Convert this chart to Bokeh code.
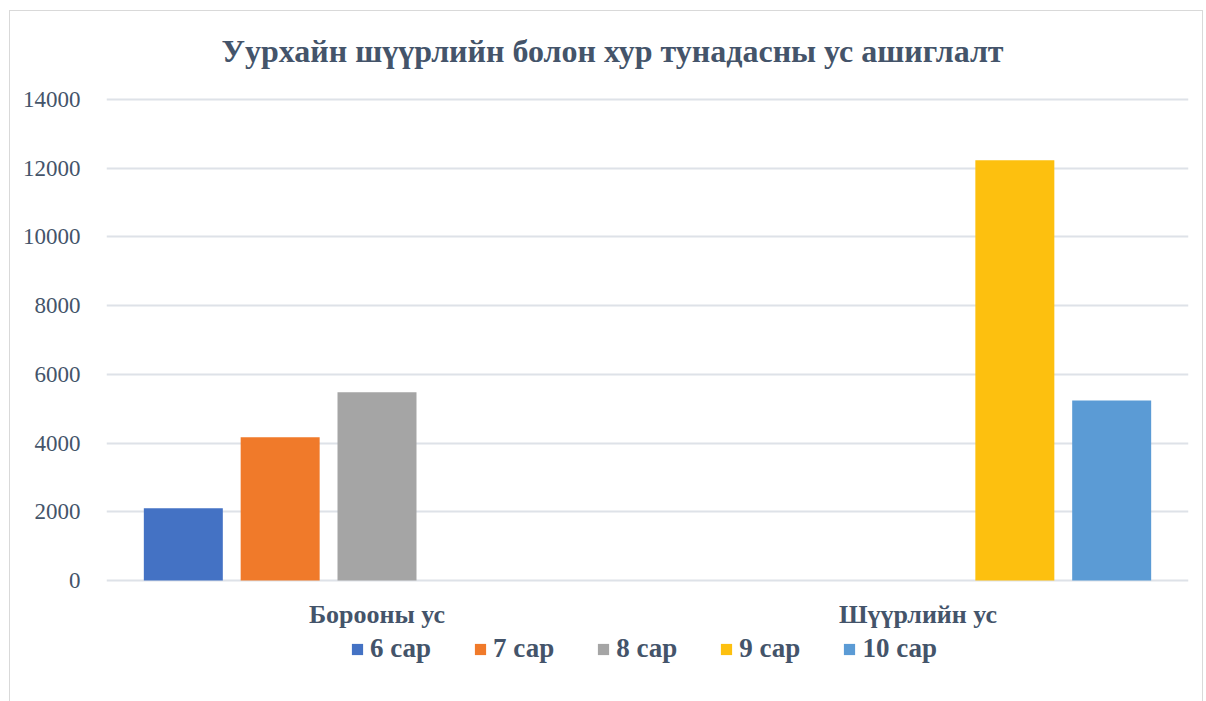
from bokeh.plotting import figure
from bokeh.models import FactorRange, FixedTicker, Legend, LegendItem, ColumnDataSource, Label
from bokeh.core.properties import value
from bokeh.transform import dodge
from bokeh.embed import file_html
from bokeh.resources import INLINE

categories = ["Борооны ус", "Шүүрлийн ус"]
series = ["6 сар", "7 сар", "8 сар", "9 сар", "10 сар"]
values = {
    "6 сар": [2100, 0],
    "7 сар": [4170, 0],
    "8 сар": [5480, 0],
    "9 сар": [0, 12230],
    "10 сар": [0, 5240],
}
colors = ["#4472C4", "#F07A2A", "#A5A5A5", "#FDC00F", "#5B9BD5"]
y_ticks = [0, 2000, 4000, 6000, 8000, 10000, 12000, 14000]
title_text = "Уурхайн шүүрлийн болон хур тунадасны ус ашиглалт"

TXT = "#44546A"
FONT = "Liberation Serif"
GRID = "#DEE2E8"

# layout (pixels): plot area 481 px tall for 0..14000, 88 px above, 121 px below
ppu = 481 / 14000
y_end = 14000 + 88 / ppu
y_start = -121 / ppu

p = figure(x_range=FactorRange(*categories), y_range=(y_start, y_end),
           frame_width=1082, frame_height=690,
           output_backend="svg", toolbar_location=None, title=None)
p.min_border_left = 96
p.min_border_right = 14
p.min_border_top = 0
p.min_border_bottom = 0
p.outline_line_color = None
p.styles = {"border": "1px solid #D9D9D9", "margin-left": "9px", "margin-top": "10px"}
p.x_range.range_padding = 0

src = ColumnDataSource(dict(cat=categories, **{s: values[s] for s in series}))
pitch = 0.179
bw = 0.146
items = []
for i, s in enumerate(series):
    r = p.vbar(x=dodge("cat", (i - 2) * pitch, range=p.x_range), top=s, bottom=0, width=bw,
               source=src, fill_color=colors[i], line_color=None)
    items.append(LegendItem(label=s, renderers=[r]))

# category labels under the baseline
p.text(x=categories, y=[0] * len(categories), text=categories, y_offset=34,
       text_align="center", text_baseline="middle",
       text_font=value(FONT), text_font_style="bold", text_font_size="26px",
       text_color=TXT)

# title
p.add_layout(Label(x=1, y=14000, x_units="data", y_units="data", text=title_text,
                   x_offset=-35, y_offset=49, text_align="center", text_baseline="middle",
                   text_font=FONT, text_font_style="bold", text_font_size="32px",
                   text_color=TXT))

legend = Legend(items=items, orientation="horizontal", location=(244, 37),
                label_text_font=FONT, label_text_font_style="bold",
                label_text_font_size="27px", label_text_color=TXT,
                glyph_width=14, glyph_height=14, spacing=42,
                border_line_color=None, background_fill_alpha=0,
                padding=0, margin=0, label_standoff=6)
p.add_layout(legend, "center")

p.yaxis.ticker = FixedTicker(ticks=y_ticks)
p.yaxis.axis_line_color = None
p.yaxis.major_tick_line_color = None
p.yaxis.minor_tick_line_color = None
p.yaxis.major_label_text_font = FONT
p.yaxis.major_label_text_font_size = "23px"
p.yaxis.major_label_text_color = TXT
p.yaxis.major_label_standoff = 20
p.xaxis.visible = False

p.xgrid.grid_line_color = None
p.ygrid.ticker = FixedTicker(ticks=y_ticks)
p.ygrid.grid_line_color = GRID
p.ygrid.grid_line_width = 2

open("out.html", "w").write(file_html(p, INLINE))
